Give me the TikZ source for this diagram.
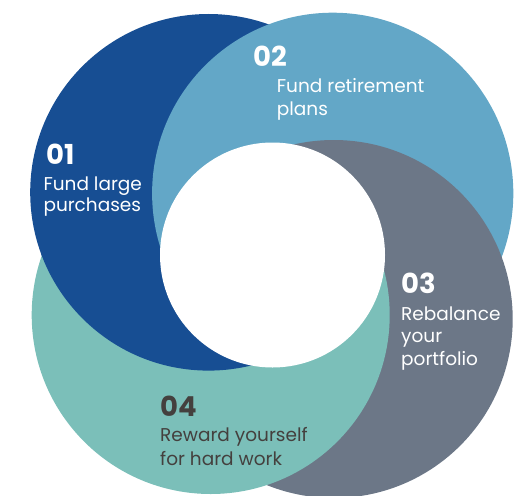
\documentclass[tikz,border=0pt]{standalone}
\usepackage{fontspec}
\setmainfont{Poppins}
\definecolor{ringnavy}{HTML}{174E93}
\definecolor{ringsky}{HTML}{63A7C7}
\definecolor{ringslate}{HTML}{6C7787}
\definecolor{ringteal}{HTML}{7BBFB9}
\definecolor{inkdark}{HTML}{44403E}
\tikzset{
  numlabel/.style={anchor=base west, inner sep=0pt, font=\fontsize{27.5}{27.5}\selectfont\bfseries},
  desclabel/.style={anchor=base west, inner sep=0pt, font=\fontsize{18.5}{22}\selectfont},
}
\begin{document}
\begin{tikzpicture}[x=1pt, y=-1pt]
  \useasboundingbox (0,0) rectangle (526,495);
  \clip (0,0) rectangle (526,495);
  % circle centres and radii
  \coordinate (c1) at (208.5,192.3);
  \coordinate (c2) at (332.7,193.3);
  \coordinate (c3) at (333.7,319);
  \coordinate (c4) at (210.7,315);
  \coordinate (hole) at (272.5,255);
  \def\ra{178.3pt}
  \def\rb{180.6pt}
  \def\rc{179pt}
  \def\rd{179pt}
  % clip radii, a little wider so no seam shows along the clip edges
  \def\raw{179.3pt}
  \def\rdw{179.8pt}
  \def\rdww{181pt}
  % the four discs, each one overlapping the previous one
  \fill[ringnavy] (c1) circle (\ra);
  \fill[ringsky] (c2) circle (\rb);
  \fill[ringslate] (c3) circle (\rc);
  \fill[ringteal] (c4) circle (\rd);
  % close the loop: disc 1 lies over disc 4
  \begin{scope}
    \clip (c4) circle (\rdw);
    \fill[ringnavy] (c1) circle (\ra);
  \end{scope}
  % ... while disc 2 stays over disc 1
  \begin{scope}
    \clip (c4) circle (\rdww);
    \clip (c1) circle (\raw);
    \fill[ringsky] (c2) circle (\rb);
  \end{scope}
  % centre hole
  \fill[white] (hole) circle (112.5pt);

  % labels
  \node[numlabel, white] (n1) at (46,164) {01};
  \node[desclabel, white] (t1a) at (43.3,190.7) {Fund large};
  \node[desclabel, white] (t1b) at (43.3,211) {purchases};

  \node[numlabel, white] (n2) at (253,66) {02};
  \node[desclabel, white] (t2a) at (276.7,92.3) {Fund retirement};
  \node[desclabel, white] (t2b) at (276.7,115) {plans};

  \node[numlabel, white] (n3) at (401,293.3) {03};
  \node[desclabel, white] (t3a) at (401,320) {Rebalance};
  \node[desclabel, white] (t3b) at (401,342.7) {your};
  \node[desclabel, white] (t3c) at (401,365) {portfolio};

  \node[numlabel, inkdark] (n4) at (160,416) {04};
  \node[desclabel, inkdark] (t4a) at (160,441.7) {Reward yourself};
  \node[desclabel, inkdark] (t4b) at (160,465) {for hard work};
\end{tikzpicture}
\end{document}
